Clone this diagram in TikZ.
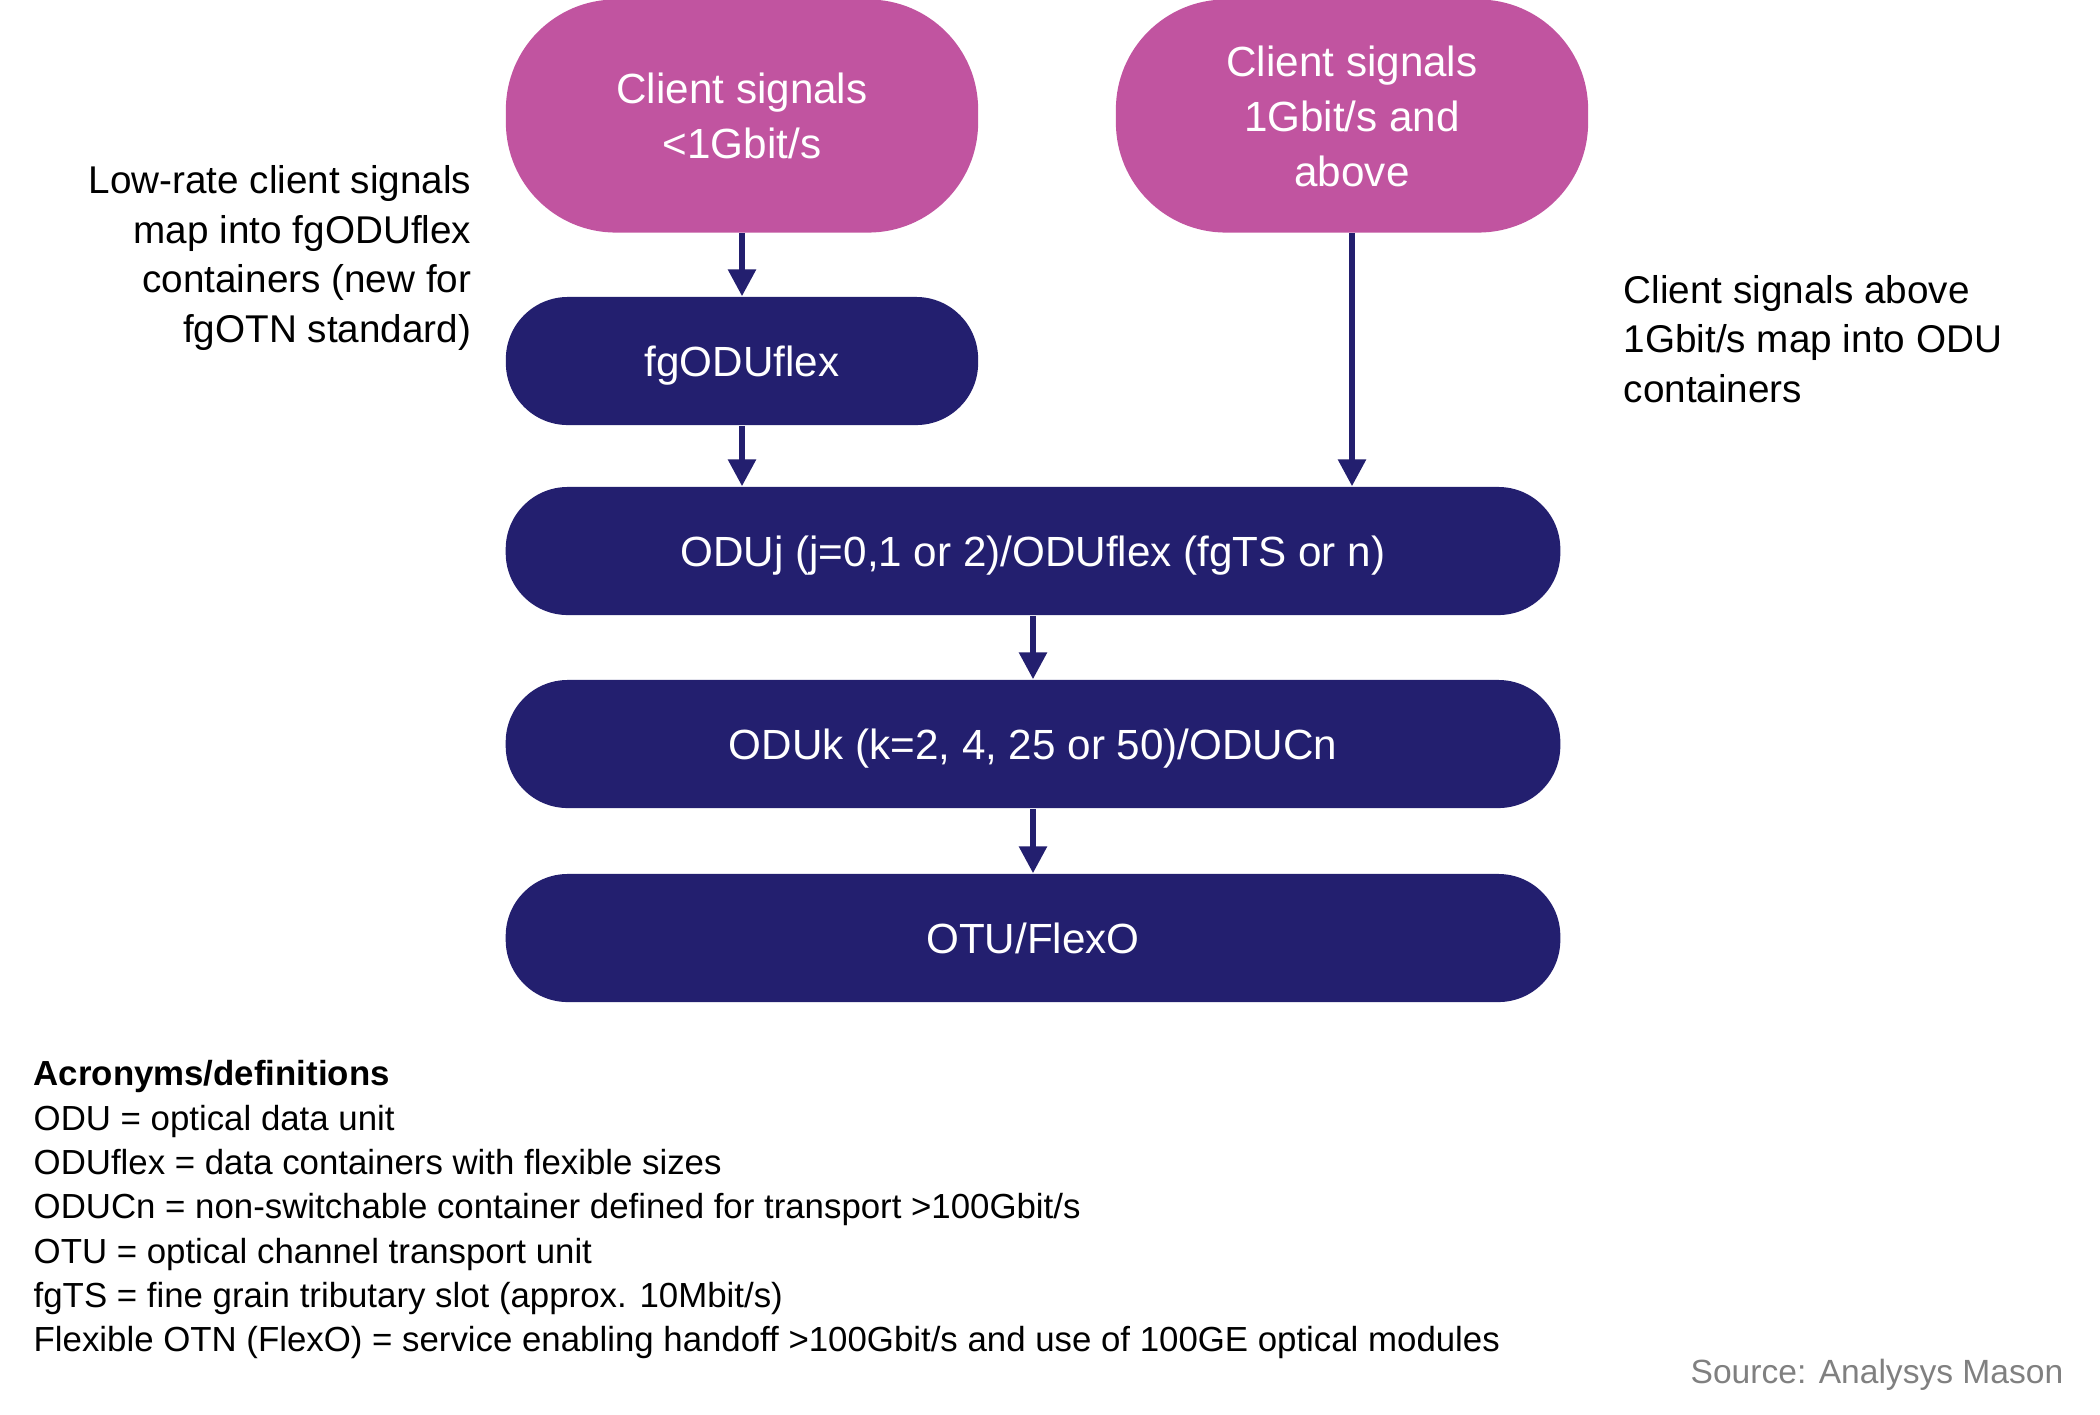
\documentclass[tikz,border=0pt]{standalone}
\usepackage{fontspec}
\setmainfont{Liberation Sans}
\usetikzlibrary{arrows.meta}

\definecolor{oduNavy}{RGB}{35,31,111}
\definecolor{sigPink}{RGB}{193,84,160}
\definecolor{srcGray}{RGB}{128,128,128}

\begin{document}
\begin{tikzpicture}[x=0.01cm, y=-0.01cm,
    box/.style={rectangle, rounded corners=0.62cm, fill=oduNavy, text=white, align=center,
        inner sep=0pt, text depth=0pt, minimum height=1.28cm, font=\fontsize{12}{15.6}\selectfont},
    sig/.style={box, fill=sigPink, minimum height=2.33cm, rounded corners=1.1cm},
    note/.style={inner sep=0pt, font=\fontsize{11}{14.1}\selectfont},
    flow/.style={draw=oduNavy, line width=1.7pt, -{Triangle[length=0.27cm, width=0.27cm]}}]
    \useasboundingbox (0,0) rectangle (2100,1414);

    % client signals
    \node (siglow) [sig, minimum width=4.72cm] at (742,116) {Client signals\\<1Gbit/s};
    \node (sighigh) [sig, minimum width=4.72cm] at (1352,116) {Client signals\\1Gbit/s and\\above};

    % containers
    \node (fgoduflex) [box, minimum width=4.72cm] at (742,361) {fgODUflex};
    \node (oduj) [box, minimum width=10.54cm] at (1033,551) {ODUj (j=0,1 or 2)/ODUflex (fgTS or n)};
    \node (oduk) [box, minimum width=10.54cm] at (1033,744) {ODUk (k=2, 4, 25 or 50)/ODUCn};
    \node (otu) [box, minimum width=10.54cm] at (1033,938) {OTU/FlexO};

    \draw[flow] (siglow) -- (fgoduflex);
    \draw[flow] (fgoduflex.south) -- (fgoduflex.south |- oduj.north);
    \draw[flow] (sighigh.south) -- (sighigh.south |- oduj.north);
    \draw[flow] (oduj) -- (oduk);
    \draw[flow] (oduk) -- (otu);

    % side notes
    \node (lownote) [note, anchor=east, align=right] at (472,258)
        {Low-rate client signals\\map into fgODUflex\\containers (new for\\fgOTN standard)};
    \node (highnote) [note, anchor=west, align=left] at (1623,339)
        {Client signals above\\1Gbit/s map into ODU\\containers};

    % legend
    \node (legend) [inner sep=0pt, anchor=north west, align=left, font=\fontsize{9.9}{12.6}\selectfont] at (33,1060)
        {\textbf{Acronyms/definitions}\\
         ODU = optical data unit\\
         ODUflex = data containers with flexible sizes\\
         ODUCn = non-switchable container defined for transport >100Gbit/s\\
         OTU = optical channel transport unit\\
         fgTS = fine grain tributary slot (approx. 10Mbit/s)\\
         Flexible OTN (FlexO) = service enabling handoff >100Gbit/s and use of 100GE optical modules};
    \node (source) [inner sep=0pt, anchor=east, text=srcGray, font=\fontsize{9.55}{11}\selectfont] at (2064,1375)
        {Source: Analysys Mason};
\end{tikzpicture}
\end{document}
